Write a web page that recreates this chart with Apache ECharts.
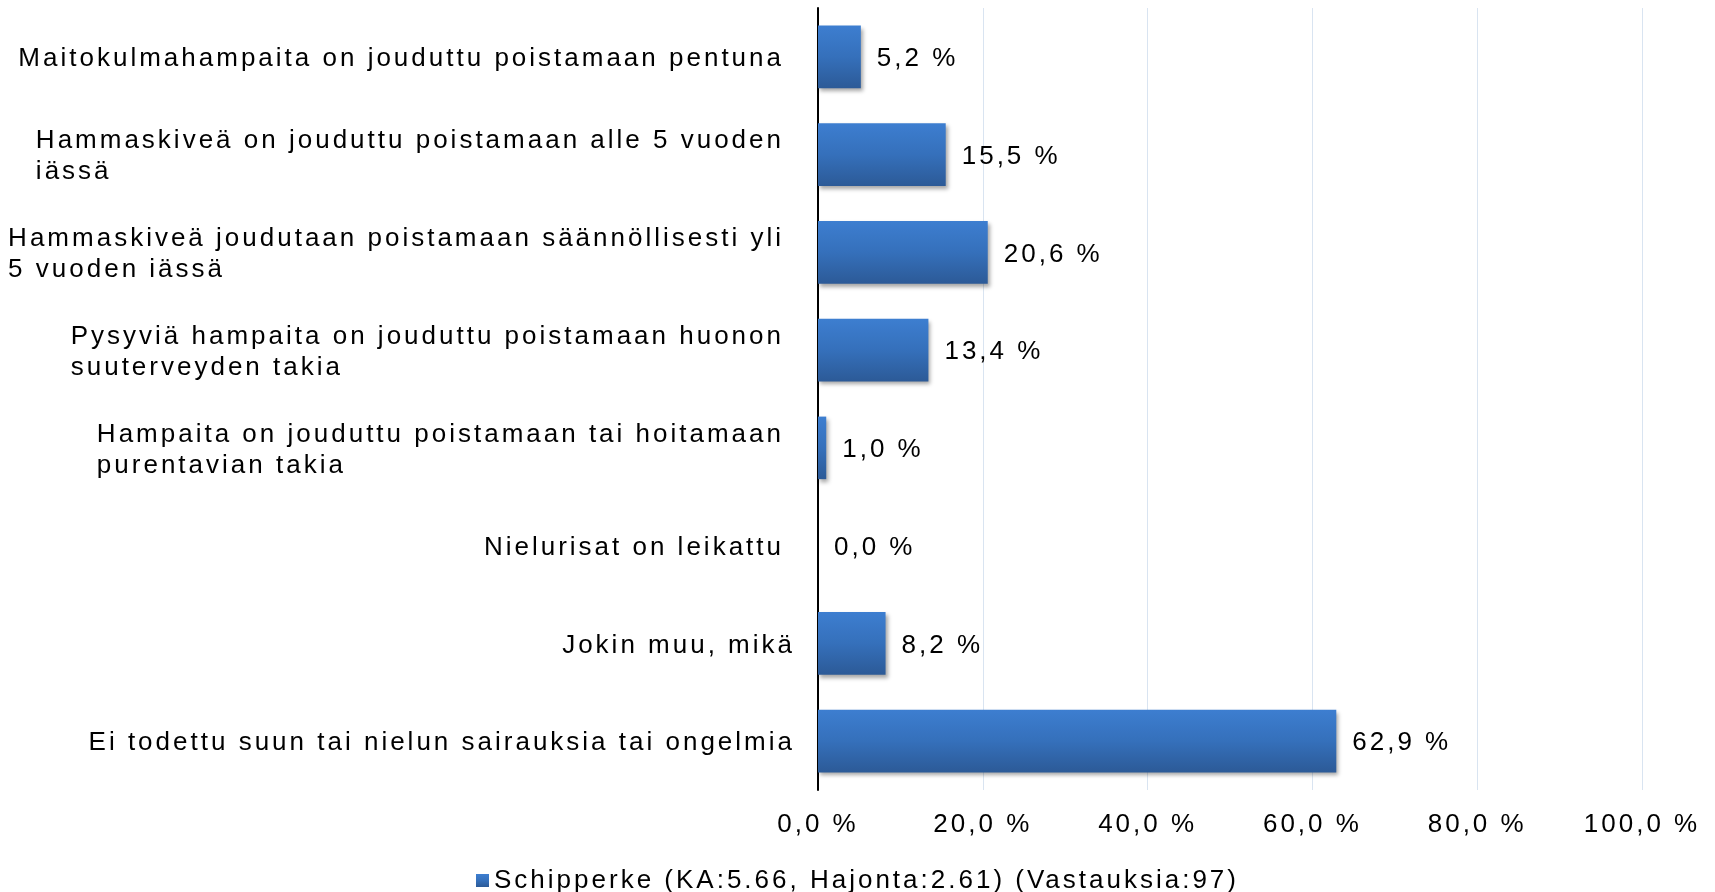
<!DOCTYPE html>
<html>
<head>
<meta charset="utf-8">
<title>Schipperke - suun ja nielun sairaudet</title>
<script src="https://cdn.jsdelivr.net/npm/echarts@6/dist/echarts.min.js"></script>
<style>
    html, body { margin: 0; padding: 0; background: #fff; }
    #main { width: 1715px; height: 892px; }
</style>
</head>
<body>
<div id="main"></div>
<script>
var categories = [
    'Maitokulmahampaita on jouduttu poistamaan pentuna',
    'Hammaskiveä on jouduttu poistamaan alle 5 vuoden\niässä',
    'Hammaskiveä joudutaan poistamaan säännöllisesti yli\n5 vuoden iässä',
    'Pysyviä hampaita on jouduttu poistamaan huonon\nsuuterveyden takia',
    'Hampaita on jouduttu poistamaan tai hoitamaan\npurentavian takia',
    'Nielurisat on leikattu',
    'Jokin muu, mikä',
    'Ei todettu suun tai nielun sairauksia tai ongelmia'
];
var values = [5.2, 15.5, 20.6, 13.4, 1.0, 0.0, 8.2, 62.9];
var seriesName = 'Schipperke (KA:5.66, Hajonta:2.61) (Vastauksia:97)';
var xTicks = [0, 20, 40, 60, 80, 100];

var FONT = '"Liberation Sans", Arial, sans-serif';
var FONT_SIZE = 26;
var LETTER_SPACING = '3px';

// excel style spaced text: canvas letterSpacing for drawing and measuring
(function () {
    var proto = CanvasRenderingContext2D.prototype;
    var fill = proto.fillText;
    var measure = proto.measureText;
    proto.fillText = function () {
        this.letterSpacing = LETTER_SPACING;
        return fill.apply(this, arguments);
    };
    proto.measureText = function () {
        this.letterSpacing = LETTER_SPACING;
        return measure.apply(this, arguments);
    };
})();

function pct(v) {
    return v.toFixed(1).replace('.', ',') + ' %';
}

var option = {
    animation: false,
    backgroundColor: '#fff',
    textStyle: { fontFamily: FONT },
    grid: {
        left: 818,
        right: 73,
        top: 8,
        bottom: 102,
        containLabel: false,
        outerBoundsMode: 'none'
    },
    legend: {
        data: [seriesName],
        left: 'center',
        top: 861,
        icon: 'rect',
        itemWidth: 13,
        itemHeight: 13,
        textStyle: { fontFamily: FONT, fontSize: FONT_SIZE, color: '#000' }
    },
    xAxis: {
        type: 'value',
        min: xTicks[0],
        max: xTicks[xTicks.length - 1],
        interval: 20,
        axisLine: { show: false },
        axisTick: { show: false },
        splitLine: { lineStyle: { color: '#d9e4f1', width: 1 } },
        axisLabel: {
            margin: 20,
            fontFamily: FONT,
            fontSize: FONT_SIZE,
            color: '#000',
            formatter: function (v) { return pct(v); }
        }
    },
    yAxis: {
        type: 'category',
        inverse: true,
        data: categories,
        axisLine: { show: true, lineStyle: { color: '#000', width: 2 } },
        axisTick: { show: false },
        axisLabel: {
            margin: 23,
            align: 'right',
            padding: [4, 0, 0, 0],
            fontFamily: FONT,
            fontSize: FONT_SIZE,
            color: '#000',
            lineHeight: 31,
            formatter: function (value, index) {
                var style = index >= 6 ? 's' : 'l';
                return value.split('\n').map(function (line) {
                    return '{' + style + '|' + line + '}';
                }).join('\n');
            },
            rich: {
                l: { align: 'left', fontFamily: FONT, fontSize: FONT_SIZE, color: '#000', lineHeight: 31, padding: [0, 11, 0, 0] },
                s: { align: 'left', fontFamily: FONT, fontSize: FONT_SIZE, color: '#000', lineHeight: 31 }
            }
        }
    },
    series: [{
        name: seriesName,
        type: 'bar',
        data: values,
        barCategoryGap: '36%',
        itemStyle: {
            color: new echarts.graphic.LinearGradient(0, 0, 0, 1, [
                { offset: 0, color: '#3d7ed0' },
                { offset: 0.5, color: '#3570bb' },
                { offset: 1, color: '#2c5a97' }
            ]),
            shadowColor: 'rgba(0, 0, 0, 0.35)',
            shadowBlur: 4,
            shadowOffsetX: 2,
            shadowOffsetY: 3
        },
        label: {
            show: true,
            position: 'right',
            distance: 16,
            offset: [0, 2],
            fontFamily: FONT,
            fontSize: FONT_SIZE,
            color: '#000',
            formatter: function (p) { return pct(p.value); }
        }
    }]
};

var myChart = echarts.init(document.getElementById('main'), null, { renderer: 'canvas' });
myChart.setOption(option);
</script>
</body>
</html>
